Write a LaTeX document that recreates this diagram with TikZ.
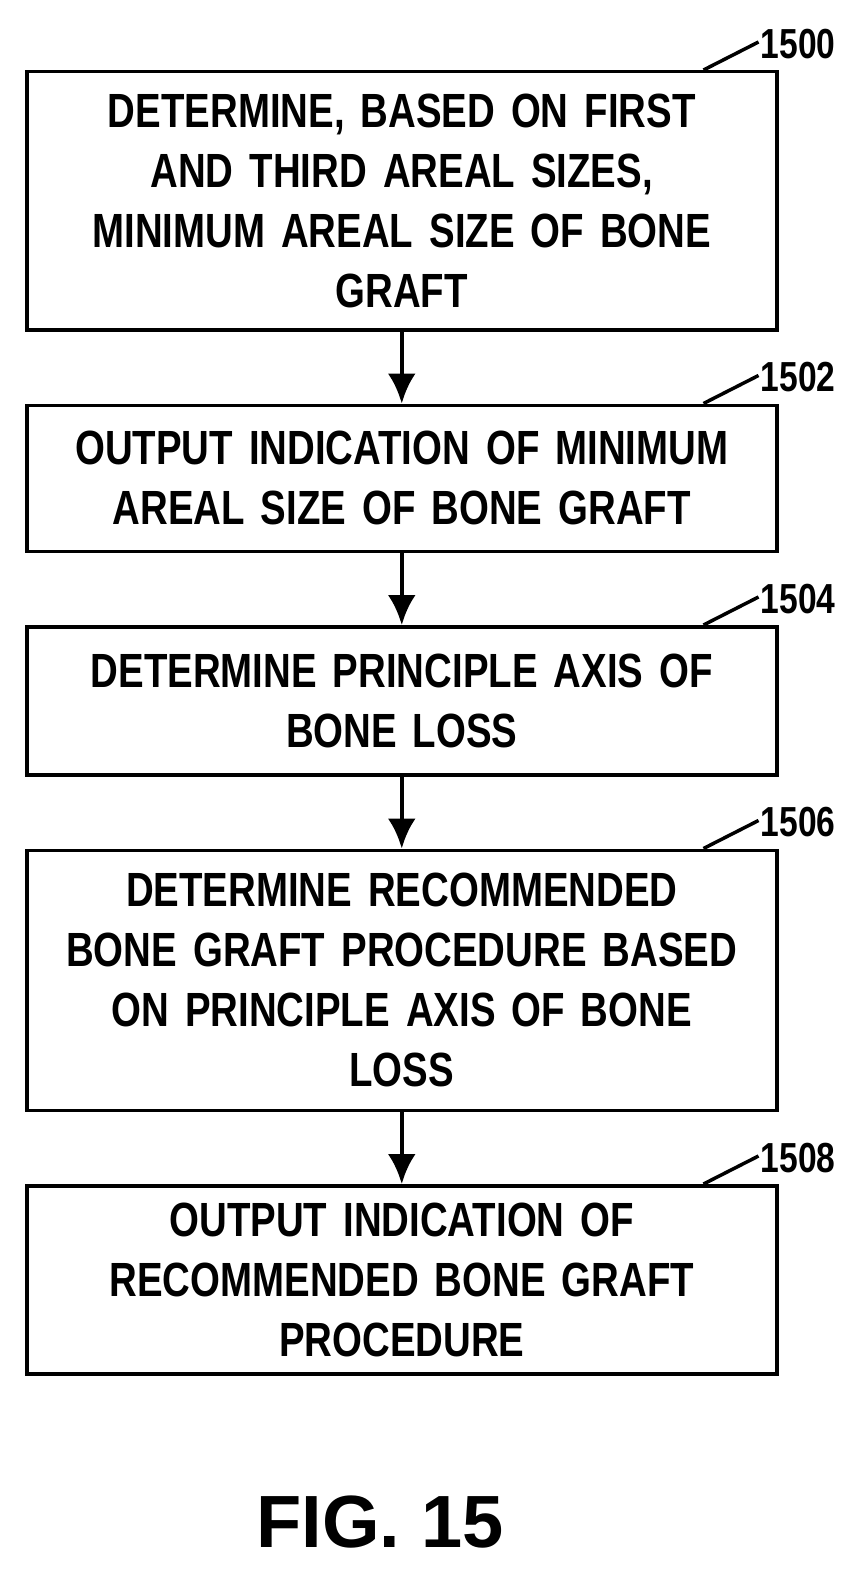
\documentclass[tikz,border=0pt]{standalone}
\usepackage{fontspec}
\setmainfont{Liberation Sans}[FakeStretch=0.8]
\newfontfamily\figfont{Liberation Sans}
\usetikzlibrary{positioning,arrows.meta}
\tikzset{
  stepbox/.style={draw, line width=3.5pt, text width=740pt, align=center,
    minimum width=750pt, inner sep=0pt, font=\fontsize{48}{60}\selectfont\bfseries},
  flow/.style={line width=4.5pt, -{Latex[length=30pt,width=28pt]}},
  refnum/.style={font=\fontsize{42}{44}\selectfont\bfseries, anchor=west, inner sep=0pt}
}
\begin{document}
\begin{tikzpicture}[x=1pt,y=1pt]
  \useasboundingbox (0,0) rectangle (867,-1571);
  \node[stepbox, minimum height=258pt, anchor=north west] (s1500) at (25,-70)
    {DETERMINE, BASED ON FIRST\\AND THIRD AREAL SIZES,\\MINIMUM AREAL SIZE OF BONE\\GRAFT};
  \node[stepbox, minimum height=146pt, below=72pt of s1500] (s1502)
    {OUTPUT INDICATION OF MINIMUM\\AREAL SIZE OF BONE GRAFT};
  \node[stepbox, minimum height=148pt, below=72pt of s1502] (s1504)
    {DETERMINE PRINCIPLE AXIS OF\\BONE LOSS};
  \node[stepbox, minimum height=260pt, below=72pt of s1504] (s1506)
    {DETERMINE RECOMMENDED\\BONE GRAFT PROCEDURE BASED\\ON PRINCIPLE AXIS OF BONE\\LOSS};
  \node[stepbox, minimum height=188pt, below=72pt of s1506] (s1508)
    {OUTPUT INDICATION OF\\RECOMMENDED BONE GRAFT\\PROCEDURE};
  % arrows
  \foreach \a/\b in {s1500/s1502, s1502/s1504, s1504/s1506, s1506/s1508}
    \draw[flow] (\a.south) -- (\b.north);
  % reference numbers
  \foreach \s/\t in {s1500/1500, s1502/1502, s1504/1504, s1506/1506, s1508/1508} {
    \coordinate (c\t) at ([xshift=-75pt]\s.north east);
    \node[refnum] (n\t) at ([xshift=-18pt,yshift=26pt]\s.north east) {\t};
    \draw[line width=3.5pt] (c\t) -- ([xshift=-2pt,yshift=2pt]n\t.west);
  }
  \node[font=\figfont\fontsize{74}{80}\selectfont\bfseries] (fig) at (380,-1522) {FIG. 15};
\end{tikzpicture}
\end{document}
